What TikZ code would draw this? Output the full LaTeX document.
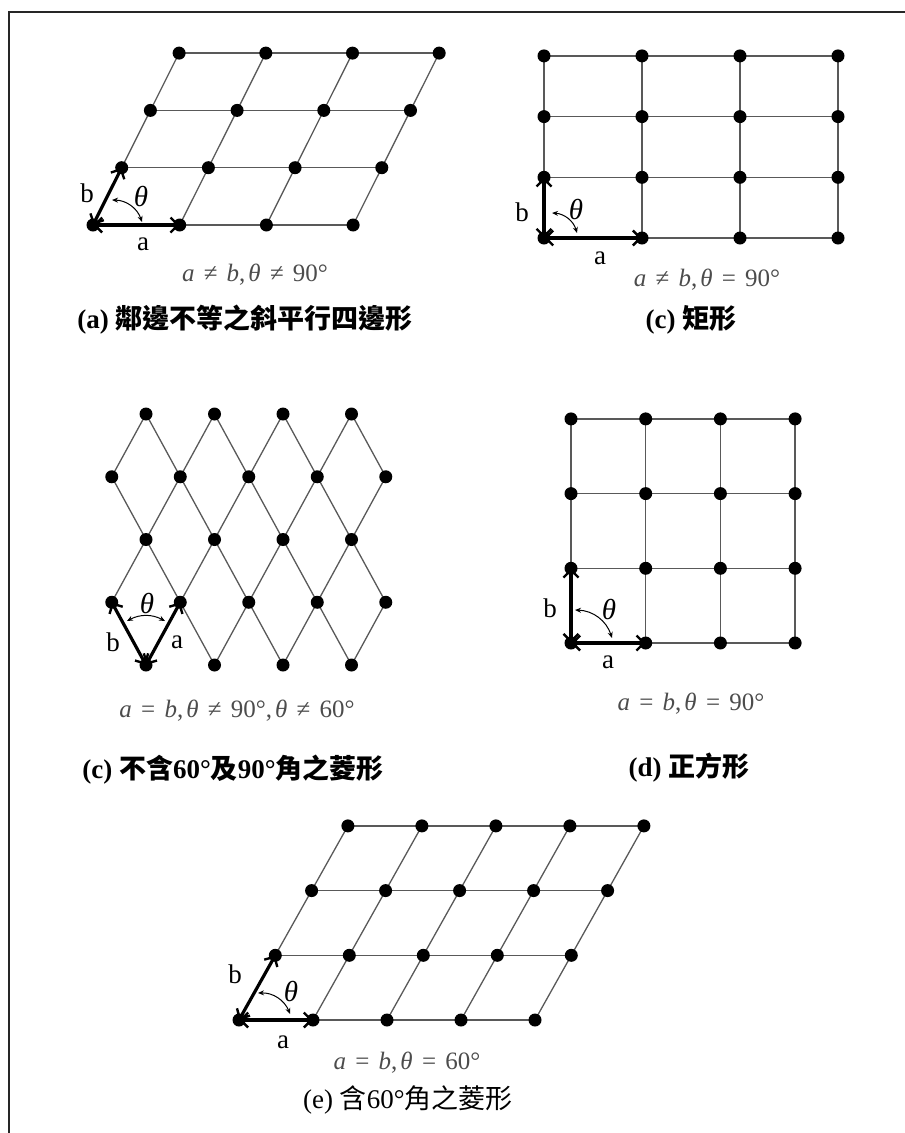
\documentclass[tikz,border=0pt]{standalone}
\usepackage{fontspec}
\setmainfont{Liberation Serif}
\newfontfamily\cjk{Noto Sans CJK TC}
\usetikzlibrary{arrows.meta,backgrounds}
\newcommand\myneq{\hspace{0.37em}≠\hspace{0.37em}}
\newcommand\myeq{\hspace{0.37em}=\hspace{0.37em}}
\newcommand\mycomma{,\hspace{0.12em}}
\tikzset{
  dot/.style={circle, fill=black, inner sep=0pt, minimum size=13pt},
  gridline/.style={draw=black!65, line width=1.3pt},
  barb/.tip={Straight Barb[length=7.5pt,width=15pt,line width=2.4pt]},
  vec/.style={line width=3.2pt, barb-barb},
  anglearc/.style={line width=1pt, {Stealth[length=6pt,width=5pt]}-{Stealth[length=6pt,width=5pt]}},
  lbl/.style={font=\fontsize{27}{30}\selectfont, inner sep=0pt},
  thetalbl/.style={font=\fontsize{29}{30}\selectfont\itshape, inner sep=0pt},
  formula/.style={font=\fontsize{25}{28}\selectfont, text=black!70, inner sep=0pt},
  caption/.style={font=\fontsize{27}{30}\selectfont\bfseries, inner sep=0pt},
  captionr/.style={font=\fontsize{27}{30}\selectfont, inner sep=0pt},
  frame/.style={line width=1.6pt, draw=black!85}
}
\begin{document}
\begin{tikzpicture}[x=1pt,y=-1pt]
\useasboundingbox (0,0) rectangle (905,1133);
\draw[frame] (9,1133) -- (9,12) -- (905,12);

% ---------- (a) oblique parallelogram ----------
\foreach \i in {0,...,3} \foreach \j in {0,...,3}
  \node[dot] (A-\i-\j) at ({93+86.7*\i+28.7*\j},{225-57.3*\j}) {};
\begin{pgfonlayer}{background}
\foreach \j in {0,...,3} \draw[gridline] (A-0-\j.center) -- (A-3-\j.center);
\foreach \i in {0,...,3} \draw[gridline] (A-\i-0.center) -- (A-\i-3.center);
\end{pgfonlayer}
\draw[vec] (A-0-0.center) -- (A-1-0.center);
\draw[vec] (A-0-0.center) -- (A-0-1.center);
\coordinate (Aarc1) at (112,200);
\coordinate (Aarc2) at (142,222);
\draw[anglearc] (Aarc1) to[bend left=35] (Aarc2);
\node[lbl] (Ab) at (87,193) {b};
\node[thetalbl] (At) at (141,196) {θ};
\node[lbl] (Aa) at (143,244) {a};
\node[formula] (Af) at (255,275) {{\itshape a}\myneq{\itshape b}\mycomma{\itshape θ}\myneq 90°};
\node[caption] (Ac) at (245,320) {(a) {\cjk 鄰邊不等之斜平行四邊形}};

% ---------- (c) rectangle ----------
\foreach \i in {0,...,3} \foreach \j in {0,...,3}
  \node[dot] (R-\i-\j) at ({544+98*\i},{238-60.7*\j}) {};
\begin{pgfonlayer}{background}
\foreach \j in {0,...,3} \draw[gridline] (R-0-\j.center) -- (R-3-\j.center);
\foreach \i in {0,...,3} \draw[gridline] (R-\i-0.center) -- (R-\i-3.center);
\end{pgfonlayer}
\draw[vec] (R-0-0.center) -- (R-1-0.center);
\draw[vec] (R-0-0.center) -- (R-0-1.center);
\coordinate (Rarc1) at (552,213);
\coordinate (Rarc2) at (577,233);
\draw[anglearc] (Rarc1) to[bend left=35] (Rarc2);
\node[lbl] (Rb) at (522,212) {b};
\node[thetalbl] (Rt) at (576,209) {θ};
\node[lbl] (Ra) at (600,258) {a};
\node[formula] (Rf) at (707,280) {{\itshape a}\myneq{\itshape b}\mycomma{\itshape θ}\myeq 90°};
\node[caption] (Rc) at (691,320) {(c) {\cjk 矩形}};

% ---------- (c) rhombus ----------
\foreach \r in {0,...,4} \foreach \k in {-1,...,7} {
  \pgfmathtruncatemacro\pty{mod(\k+\r+2,2)}
  \ifnum\pty=0
    \node[dot] (H-\k-\r) at ({146+34.25*\k},{665-62.75*\r}) {};
  \fi
}
\begin{pgfonlayer}{background}
\foreach \r in {0,...,3} \foreach \k in {-1,...,7} {
  \pgfmathtruncatemacro\pty{mod(\k+\r+2,2)}
  \pgfmathtruncatemacro\rr{\r+1}
  \pgfmathtruncatemacro\kp{\k+1}
  \pgfmathtruncatemacro\km{\k-1}
  \ifnum\pty=0
    \ifnum\k<7 \draw[gridline] (H-\k-\r.center) -- (H-\kp-\rr.center); \fi
    \ifnum\k>-1 \draw[gridline] (H-\k-\r.center) -- (H-\km-\rr.center); \fi
  \fi
}
\end{pgfonlayer}
\draw[vec] (H-0-0.center) -- (H-1-1.center);
\draw[vec] (H-0-0.center) -- (H--1-1.center);
\coordinate (Harc1) at (127,621);
\coordinate (Harc2) at (165,621);
\draw[anglearc] (Harc1) to[bend left=28] (Harc2);
\node[thetalbl] (Ht) at (147,603) {θ};
\node[lbl] (Hb) at (113,642) {b};
\node[lbl] (Ha) at (177,642) {a};
\node[formula] (Hf) at (237,711) {{\itshape a}\myeq{\itshape b}\mycomma{\itshape θ}\myneq 90°\mycomma{\itshape θ}\myneq 60°};
\node[caption] (Hc) at (233,770) {(c) {\cjk 不含}60°{\cjk 及}90°{\cjk 角之菱形}};

% ---------- (d) square ----------
\foreach \i in {0,...,3} \foreach \j in {0,...,3}
  \node[dot] (S-\i-\j) at ({571+74.7*\i},{643-74.7*\j}) {};
\begin{pgfonlayer}{background}
\foreach \j in {0,...,3} \draw[gridline] (S-0-\j.center) -- (S-3-\j.center);
\foreach \i in {0,...,3} \draw[gridline] (S-\i-0.center) -- (S-\i-3.center);
\end{pgfonlayer}
\draw[vec] (S-0-0.center) -- (S-1-0.center);
\draw[vec] (S-0-0.center) -- (S-0-1.center);
\coordinate (Sarc1) at (575,610);
\coordinate (Sarc2) at (612,638);
\draw[anglearc] (Sarc1) to[bend left=35] (Sarc2);
\node[lbl] (Sb) at (550,608) {b};
\node[thetalbl] (St) at (609,609) {θ};
\node[lbl] (Sa) at (608,662) {a};
\node[formula] (Sf) at (691,704) {{\itshape a}\myeq{\itshape b}\mycomma{\itshape θ}\myeq 90°};
\node[caption] (Sc) at (689,768) {(d) {\cjk 正方形}};

% ---------- (e) 60 degree rhombus ----------
\foreach \i in {0,...,4} \foreach \j in {0,...,3}
  \node[dot] (E-\i-\j) at ({239+74*\i+36.3*\j},{1020-64.7*\j}) {};
\begin{pgfonlayer}{background}
\foreach \j in {0,...,3} \draw[gridline] (E-0-\j.center) -- (E-4-\j.center);
\foreach \i in {0,...,4} \draw[gridline] (E-\i-0.center) -- (E-\i-3.center);
\end{pgfonlayer}
\draw[vec] (E-0-0.center) -- (E-1-0.center);
\draw[vec] (E-0-0.center) -- (E-0-1.center);
\coordinate (Earc1) at (258,993);
\coordinate (Earc2) at (290,1014);
\draw[anglearc] (Earc1) to[bend left=35] (Earc2);
\node[lbl] (Eb) at (235,974) {b};
\node[thetalbl] (Et) at (291,991) {θ};
\node[lbl] (Ea) at (283,1042) {a};
\node[formula] (Ef) at (407,1063) {{\itshape a}\myeq{\itshape b}\mycomma{\itshape θ}\myeq 60°};
\node[captionr] (Ec) at (408,1100) {(e) {\cjk 含}60°{\cjk 角之菱形}};
\end{tikzpicture}
\end{document}
